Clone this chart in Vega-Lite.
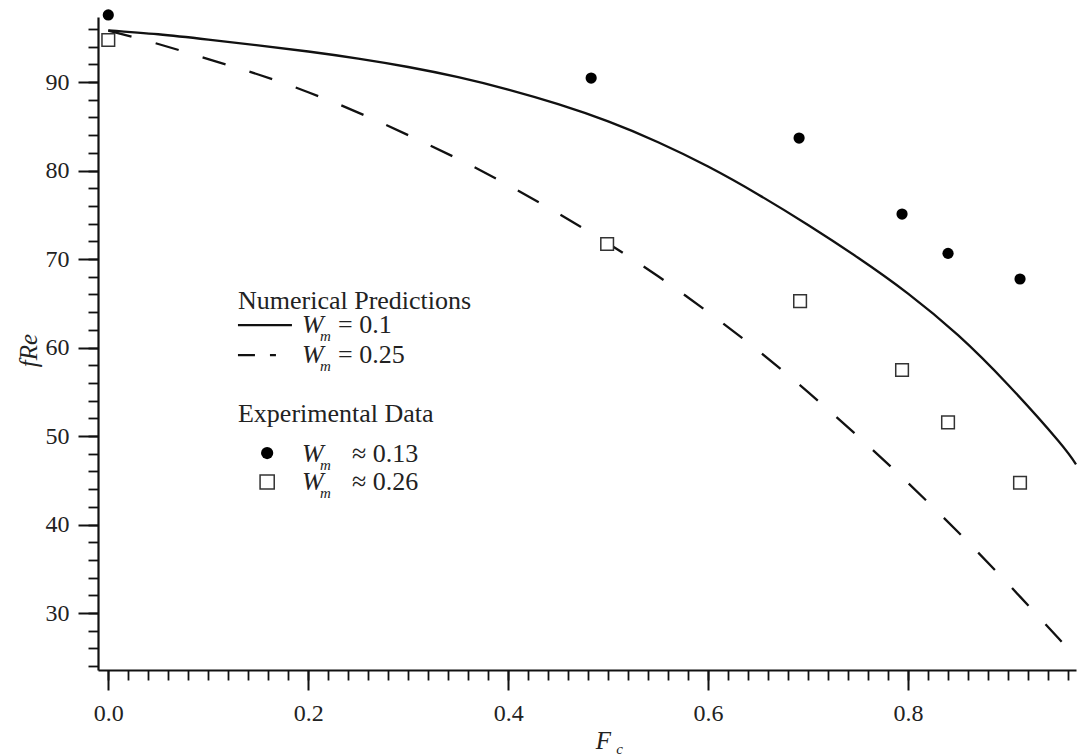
{
  "$schema": "https://vega.github.io/schema/vega-lite/v6.json",
  "width": 978,
  "height": 653,
  "autosize": {"type": "none"},
  "padding": {"left": 98, "top": 17, "right": 2, "bottom": 85},
  "background": "white",
  "config": {"view": {"stroke": null}, "font": "'Liberation Serif', 'Times New Roman', 'DejaVu Serif', serif"},
  "datasets": {
    "solid": [
      {"x": 0, "y": 95.85}, {"x": 0.05, "y": 95.4}, {"x": 0.1, "y": 94.8}, {"x": 0.15, "y": 94.15},
      {"x": 0.2, "y": 93.45}, {"x": 0.25, "y": 92.65}, {"x": 0.3, "y": 91.7}, {"x": 0.35, "y": 90.55},
      {"x": 0.4, "y": 89.15}, {"x": 0.45, "y": 87.5}, {"x": 0.5, "y": 85.55}, {"x": 0.55, "y": 83.2},
      {"x": 0.6, "y": 80.45}, {"x": 0.65, "y": 77.3}, {"x": 0.7, "y": 73.85}, {"x": 0.75, "y": 70.15},
      {"x": 0.8, "y": 66.1}, {"x": 0.85, "y": 61.4}, {"x": 0.9, "y": 55.8}, {"x": 0.95, "y": 49.5},
      {"x": 0.968, "y": 46.8}
    ],
    "dashed": [
      {"x": 0, "y": 95.8}, {"x": 0.05, "y": 94.3}, {"x": 0.1, "y": 92.6}, {"x": 0.15, "y": 90.85},
      {"x": 0.2, "y": 88.85}, {"x": 0.25, "y": 86.55}, {"x": 0.3, "y": 84.0}, {"x": 0.35, "y": 81.3},
      {"x": 0.4, "y": 78.35}, {"x": 0.45, "y": 75.15}, {"x": 0.5, "y": 71.75}, {"x": 0.55, "y": 68.05},
      {"x": 0.6, "y": 64.0}, {"x": 0.65, "y": 59.65}, {"x": 0.7, "y": 54.95}, {"x": 0.75, "y": 49.95},
      {"x": 0.8, "y": 44.7}, {"x": 0.85, "y": 39.15}, {"x": 0.9, "y": 33.3}, {"x": 0.95, "y": 27.2},
      {"x": 0.968, "y": 25.0}
    ],
    "circ": [
      {"x": 0.0, "y": 97.58}, {"x": 0.483, "y": 90.45}, {"x": 0.691, "y": 83.67},
      {"x": 0.794, "y": 75.08}, {"x": 0.84, "y": 70.64}, {"x": 0.912, "y": 67.74}
    ],
    "sq": [
      {"x": 0.0, "y": 94.75}, {"x": 0.499, "y": 71.7}, {"x": 0.692, "y": 65.25},
      {"x": 0.794, "y": 57.46}, {"x": 0.84, "y": 51.55}, {"x": 0.912, "y": 44.72}
    ],
    "legText": [
      {"x": 0.1297, "y": 64.35, "part": "title", "text": "Numerical Predictions"},
      {"x": 0.1937, "y": 61.64, "part": "W", "text": "W"},
      {"x": 0.2118, "y": 60.74, "part": "sub", "text": "m"},
      {"x": 0.2298, "y": 61.64, "part": "val", "text": "= 0.1"},
      {"x": 0.1937, "y": 58.25, "part": "W", "text": "W"},
      {"x": 0.2118, "y": 57.35, "part": "sub", "text": "m"},
      {"x": 0.2298, "y": 58.25, "part": "val", "text": "= 0.25"},
      {"x": 0.1297, "y": 51.58, "part": "title", "text": "Experimental Data"},
      {"x": 0.1937, "y": 47.06, "part": "W", "text": "W"},
      {"x": 0.2118, "y": 46.16, "part": "sub", "text": "m"},
      {"x": 0.2438, "y": 47.06, "part": "val", "text": "≈ 0.13"},
      {"x": 0.1937, "y": 43.9, "part": "W", "text": "W"},
      {"x": 0.2118, "y": 43.0, "part": "sub", "text": "m"},
      {"x": 0.2438, "y": 43.9, "part": "val", "text": "≈ 0.26"},
      {"x": 0.508, "y": 14.06, "part": "sub", "text": "c"}
    ],
    "legLine": [
      {"x": 0.1297, "y": 62.54, "series": "solid"}, {"x": 0.1837, "y": 62.54, "series": "solid"},
      {"x": 0.1297, "y": 59.15, "series": "dashed"}, {"x": 0.1677, "y": 59.15, "series": "dashed"}
    ],
    "legPt": [
      {"x": 0.1589, "y": 48.08, "kind": "circle"},
      {"x": 0.1589, "y": 44.8, "kind": "square"}
    ]
  },
  "encoding": {
    "x": {"field": "x", "type": "quantitative", "scale": {"domain": [-0.0103, 0.968], "nice": false, "zero": false}, "axis": null},
    "y": {"field": "y", "type": "quantitative", "scale": {"domain": [23.56, 97.35], "nice": false, "zero": false}, "axis": null}
  },
  "layer": [
    {
      "data": {"name": "solid"},
      "mark": {"type": "line", "color": "#111", "strokeWidth": 2.3, "interpolate": "natural", "clip": false},
      "encoding": {
        "x": {"field": "x", "type": "quantitative", "scale": {"domain": [-0.0103, 0.968], "nice": false, "zero": false},
          "axis": {"orient": "bottom", "values": [0,0.02,0.04,0.06,0.08,0.1,0.12,0.14,0.16,0.18,0.2,0.22,0.24,0.26,0.28,0.3,0.32,0.34,0.36,0.38,0.4,0.42,0.44,0.46,0.48,0.5,0.52,0.54,0.56,0.58,0.6,0.62,0.64,0.66,0.68,0.7,0.72,0.74,0.76,0.78,0.8,0.82,0.84,0.86,0.88,0.9,0.92,0.94,0.96],
            "labels": false, "title": null, "grid": false, "domain": true, "domainColor": "#111", "domainWidth": 2.2,
            "ticks": true, "tickSize": 10, "tickWidth": 1.8, "tickColor": "#111"}},
        "y": {"field": "y", "type": "quantitative", "scale": {"domain": [23.56, 97.35], "nice": false, "zero": false},
          "axis": {"orient": "left", "values": [24,26,28,30,32,34,36,38,40,42,44,46,48,50,52,54,56,58,60,62,64,66,68,70,72,74,76,78,80,82,84,86,88,90,92,94,96],
            "labels": false, "title": null, "grid": false, "domain": true, "domainColor": "#111", "domainWidth": 2.2,
            "ticks": true, "tickSize": 10, "tickWidth": 1.8, "tickColor": "#111"}}
      }
    },
    {
      "data": {"name": "dashed"},
      "mark": {"type": "line", "color": "#111", "strokeWidth": 2.3, "interpolate": "natural", "strokeDash": [24, 25], "clip": false},
      "encoding": {
        "x": {"field": "x", "type": "quantitative", "scale": {"domain": [-0.0103, 0.968], "nice": false, "zero": false},
          "axis": {"orient": "bottom", "values": [0, 0.2, 0.4, 0.6, 0.8], "format": ".1f", "grid": false, "domain": false,
            "tickSize": 20, "tickWidth": 2, "tickColor": "#111",
            "labelFont": "'Liberation Serif', 'Times New Roman', 'DejaVu Serif', serif", "labelFontSize": 24, "labelColor": "#222", "labelPadding": 11,
            "title": "F", "titleFont": "'Liberation Serif', 'Times New Roman', 'DejaVu Serif', serif", "titleFontStyle": "italic", "titleFontWeight": "normal",
            "titleFontSize": 25, "titleColor": "#222", "titleX": 505, "titleY": 78, "titleAlign": "center", "titleBaseline": "alphabetic"}},
        "y": {"field": "y", "type": "quantitative", "scale": {"domain": [23.56, 97.35], "nice": false, "zero": false},
          "axis": {"orient": "left", "values": [30, 40, 50, 60, 70, 80, 90], "grid": false, "domain": false,
            "tickSize": 20, "tickWidth": 2, "tickColor": "#111",
            "labelFont": "'Liberation Serif', 'Times New Roman', 'DejaVu Serif', serif", "labelFontSize": 24, "labelColor": "#222", "labelPadding": 9,
            "title": "fRe", "titleFont": "'Liberation Serif', 'Times New Roman', 'DejaVu Serif', serif", "titleFontStyle": "italic", "titleFontWeight": "normal",
            "titleFontSize": 25, "titleColor": "#222", "titleX": -70, "titleY": 333, "titleAlign": "center", "titleBaseline": "middle", "titleAngle": -90}}
      }
    },
    {
      "data": {"name": "circ"},
      "mark": {"type": "point", "shape": "circle", "filled": true, "color": "#000", "size": 125, "opacity": 1, "clip": false}
    },
    {
      "data": {"name": "sq"},
      "mark": {"type": "point", "shape": "square", "filled": false, "fill": "white", "stroke": "#333", "strokeWidth": 1.5, "size": 160, "opacity": 1, "clip": false}
    },
    {
      "data": {"name": "legLine"},
      "transform": [{"filter": "datum.series === 'solid'"}],
      "mark": {"type": "line", "color": "#111", "strokeWidth": 2.3, "clip": false}
    },
    {
      "data": {"name": "legLine"},
      "transform": [{"filter": "datum.series === 'dashed'"}],
      "mark": {"type": "line", "color": "#111", "strokeWidth": 2.3, "strokeDash": [17, 15], "clip": false}
    },
    {
      "data": {"name": "legPt"},
      "transform": [{"filter": "datum.kind === 'circle'"}],
      "mark": {"type": "point", "shape": "circle", "filled": true, "color": "#000", "size": 150, "opacity": 1, "clip": false}
    },
    {
      "data": {"name": "legPt"},
      "transform": [{"filter": "datum.kind === 'square'"}],
      "mark": {"type": "point", "shape": "square", "filled": false, "fill": "white", "stroke": "#333", "strokeWidth": 1.5, "size": 200, "opacity": 1, "clip": false}
    },
    {
      "data": {"name": "legText"},
      "transform": [{"filter": "datum.part === 'title' || datum.part === 'val'"}],
      "mark": {"type": "text", "align": "left", "baseline": "alphabetic", "font": "'Liberation Serif', 'Times New Roman', 'DejaVu Serif', serif", "fontSize": 26, "color": "#222", "clip": false},
      "encoding": {"text": {"field": "text"}}
    },
    {
      "data": {"name": "legText"},
      "transform": [{"filter": "datum.part === 'W'"}],
      "mark": {"type": "text", "align": "left", "baseline": "alphabetic", "font": "'Liberation Serif', 'Times New Roman', 'DejaVu Serif', serif", "fontStyle": "italic", "fontSize": 26, "color": "#222", "clip": false},
      "encoding": {"text": {"field": "text"}}
    },
    {
      "data": {"name": "legText"},
      "transform": [{"filter": "datum.part === 'sub'"}],
      "mark": {"type": "text", "align": "left", "baseline": "alphabetic", "font": "'Liberation Serif', 'Times New Roman', 'DejaVu Serif', serif", "fontStyle": "italic", "fontSize": 15, "color": "#222", "clip": false},
      "encoding": {"text": {"field": "text"}}
    }
  ],
  "resolve": {"axis": {"x": "independent", "y": "independent"}}
}
